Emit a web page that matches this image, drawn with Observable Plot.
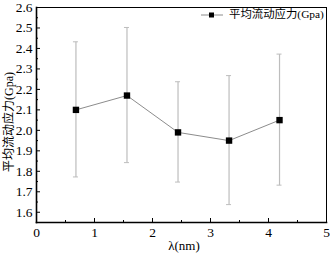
<!DOCTYPE html>
<html><head><meta charset="utf-8">
<script src="https://cdn.jsdelivr.net/npm/d3@7"></script>
<script src="https://cdn.jsdelivr.net/npm/@observablehq/plot@0.6"></script>
<style>
body{margin:0;background:#fff}
#chart svg text{font-family:"Liberation Serif","Noto Sans CJK SC",serif !important;}
</style>
</head><body><div id="chart"></div>
<script>
const lambda = [0.68, 1.56, 2.44, 3.32, 4.19];
const stress = [2.10, 2.17, 1.99, 1.95, 2.05];
const errLow = [1.77, 1.84, 1.745, 1.635, 1.73];
const errHigh = [2.43, 2.50, 2.235, 2.265, 2.37];
const xTicks = [0, 1, 2, 3, 4, 5];
const xMinor = [0.5, 1.5, 2.5, 3.5, 4.5];
const yTicks = [1.6, 1.7, 1.8, 1.9, 2.0, 2.1, 2.2, 2.3, 2.4, 2.5, 2.6];
const yMinor = [1.55, 1.65, 1.75, 1.85, 1.95, 2.05, 2.15, 2.25, 2.35, 2.45, 2.55];
const seriesName = "平均流动应力(Gpa)";
const yLabel = "平均流动应力(Gpa)";
const xLabel = "λ(nm)";

const data = lambda.map((x, i) => ({x, y: stress[i], lo: errLow[i], hi: errHigh[i]}));

const plot = Plot.plot({
  width: 330, height: 255,
  marginLeft: 36, marginRight: 4, marginTop: 7, marginBottom: 33,
  style: {background: "#fff", color: "#000"},
  x: {type: "linear", domain: [0, 5]},
  y: {type: "linear", domain: [1.55, 2.6]},
  marks: [
    Plot.ruleX(data, {x: "x", y1: "lo", y2: "hi", stroke: "#bdbdbd", strokeWidth: 1.2}),
    Plot.line(data, {x: "x", y: "y", stroke: "#8c8c8c", strokeWidth: 1}),
    Plot.dot(data, {x: "x", y: "y", symbol: "square", r: 3.6, fill: "#000", stroke: "none"}),
    Plot.axisX(xTicks, {tickSize: -4, text: null, stroke: "#000", label: null}),
    Plot.axisX(xMinor, {tickSize: -2, text: null, stroke: "#000", label: null}),
    Plot.axisX(xTicks, {tickSize: 0, tickPadding: 5, fontSize: 13.5, label: null}),
    Plot.axisY(yTicks, {tickSize: -4, text: null, stroke: "#000", label: null}),
    Plot.axisY(yMinor, {tickSize: -2, text: null, stroke: "#000", label: null}),
    Plot.axisY(yTicks, {tickSize: 0, tickPadding: 4, fontSize: 13.5, tickFormat: d => d.toFixed(1), label: null}),
    Plot.frame({stroke: "#000", strokeWidth: 1}),
    Plot.frame({anchor: "left", stroke: "#000", strokeWidth: 1.6}),
    Plot.frame({anchor: "bottom", stroke: "#000", strokeWidth: 1.6})
  ]
});
document.getElementById("chart").appendChild(plot);

const svg = d3.select(plot);
const sx = plot.scale("x"), sy = plot.scale("y");
const capG = svg.append("g").attr("stroke", "#bdbdbd").attr("stroke-width", 1);
data.forEach(d => {
  [d.lo, d.hi].forEach(v => {
    capG.append("line").attr("x1", sx.apply(d.x) - 2.5).attr("x2", sx.apply(d.x) + 2.5)
      .attr("y1", sy.apply(v)).attr("y2", sy.apply(v));
  });
});
svg.append("text").attr("x", sx.apply(2.5) + 3).attr("y", 247)
  .attr("text-anchor", "middle").attr("dominant-baseline", "middle")
  .style("font-size", "13px").text(xLabel);
svg.append("text").attr("transform", "translate(10,122) rotate(-90)")
  .attr("text-anchor", "middle").attr("dominant-baseline", "middle")
  .style("font-size", "12px").text(yLabel);
const lg = svg.append("g");
lg.append("line").attr("x1", 201).attr("x2", 223).attr("y1", 15).attr("y2", 15).attr("stroke", "#8c8c8c");
lg.append("rect").attr("x", 209).attr("y", 12.5).attr("width", 5).attr("height", 5).attr("fill", "#000");
lg.append("text").attr("x", 229).attr("y", 15).attr("text-anchor", "start").attr("dominant-baseline", "middle")
  .style("font-size", "11.4px").text(seriesName);
</script></body></html>
